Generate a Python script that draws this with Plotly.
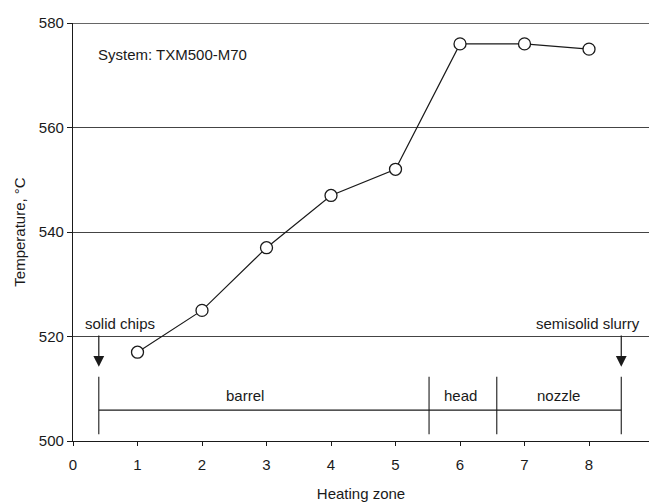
import plotly.graph_objects as go

zones = [1, 2, 3, 4, 5, 6, 7, 8]
temps = [517, 525, 537, 547, 552, 576, 576, 575]

x_ticks = [0, 1, 2, 3, 4, 5, 6, 7, 8]
y_ticks = [500, 520, 540, 560, 580]

# section boundaries of the machine (heating zone units)
section_bounds = [0.4, 5.52, 6.57, 8.5]
section_names = ["barrel", "head", "nozzle"]
section_label_x = [2.67, 6.0, 7.52]

FONT = "Liberation Sans, Arial, sans-serif"
INK = "#1a1a1a"
FS = 15

fig = go.Figure()

fig.add_trace(go.Scatter(
    x=zones, y=temps, mode="lines+markers",
    line=dict(color=INK, width=1.2),
    marker=dict(symbol="circle", size=12, color="white",
                line=dict(color=INK, width=1.3)),
    showlegend=False, cliponaxis=False,
))

shapes = []
# top gridline at the range edge
shapes.append(dict(type="line", xref="paper", yref="y", x0=0, x1=1, y0=580, y1=580,
                   line=dict(color="#333333", width=1.3)))
# horizontal bracket line
shapes.append(dict(type="line", xref="x", yref="y",
                   x0=section_bounds[0], x1=section_bounds[-1], y0=505.9, y1=505.9,
                   line=dict(color=INK, width=1.1)))
for b in section_bounds:
    shapes.append(dict(type="line", xref="x", yref="y",
                       x0=b, x1=b, y0=501.3, y1=512.3,
                       line=dict(color=INK, width=1.1)))

annotations = []
for name, lx in zip(section_names, section_label_x):
    annotations.append(dict(x=lx, y=508.8, xref="x", yref="y", text=name,
                            showarrow=False, font=dict(size=FS, color=INK, family=FONT)))

# arrows
for ax_x in [section_bounds[0], section_bounds[-1]]:
    annotations.append(dict(x=ax_x, y=514.2, ax=ax_x, ay=520.5,
                            xref="x", yref="y", axref="x", ayref="y",
                            text="", showarrow=True, arrowhead=2, arrowsize=1.8,
                            arrowwidth=1.2, arrowcolor=INK))

annotations.append(dict(x=(83 - 73) / 64.5, y=522.4, xref="x", yref="y", text="solid chips",
                        xanchor="left", showarrow=False,
                        font=dict(size=FS, color=INK, family=FONT)))
annotations.append(dict(x=(642 - 73) / 64.5, y=522.4, xref="x", yref="y", text="semisolid slurry",
                        xanchor="right", showarrow=False,
                        font=dict(size=FS, color=INK, family=FONT)))
annotations.append(dict(x=(96 - 73) / 64.5, y=573.9, xref="x", yref="y", text="System: TXM500-M70",
                        xanchor="left", showarrow=False,
                        font=dict(size=FS, color=INK, family=FONT)))

fig.update_layout(
    width=649, height=502,
    margin=dict(l=73, r=0, t=23, b=61),
    paper_bgcolor="white", plot_bgcolor="white",
    font=dict(family=FONT, size=FS, color=INK),
    shapes=shapes, annotations=annotations,
    xaxis=dict(range=[0, 8.93], tickvals=x_ticks, ticktext=[str(v) for v in x_ticks],
               showgrid=False, zeroline=False, showline=True, linecolor=INK, linewidth=1.3,
               ticks="outside", ticklen=4, tickcolor=INK, ticklabelstandoff=6,
               tickfont=dict(size=FS, family=FONT),
               title=dict(text="Heating zone", font=dict(size=FS, family=FONT), standoff=17)),
    yaxis=dict(range=[500, 580], tickvals=y_ticks, ticktext=[str(v) for v in y_ticks],
               showgrid=True, gridcolor="#444444", gridwidth=1,
               zeroline=False, showline=True, linecolor=INK, linewidth=1.3,
               ticks="outside", ticklen=5, tickcolor=INK,
               tickfont=dict(size=FS, family=FONT),
               title=dict(text="Temperature, °C", font=dict(size=FS, family=FONT), standoff=9)),
)

fig.write_html("out.html")
